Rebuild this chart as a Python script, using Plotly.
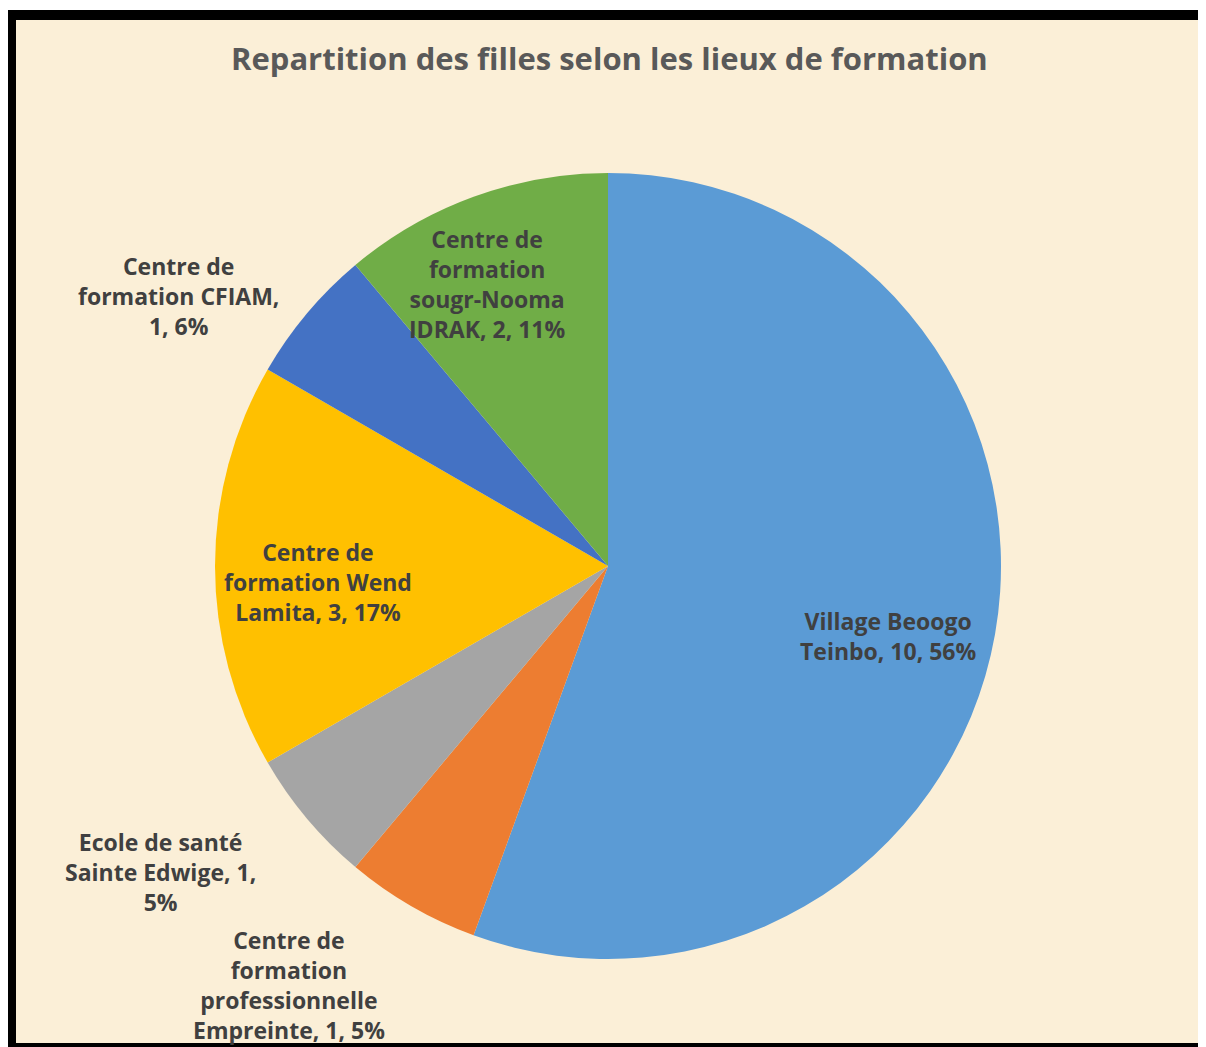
import plotly.graph_objects as go

# ---- data ----
labels = [
    "Village Beoogo Teinbo",
    "Centre de formation professionnelle Empreinte",
    "Ecole de santé Sainte Edwige",
    "Centre de formation Wend Lamita",
    "Centre de formation CFIAM",
    "Centre de formation sougr-Nooma IDRAK",
]
values = [10, 1, 1, 3, 1, 2]
percents = ["56%", "5%", "5%", "17%", "6%", "11%"]
colors = ["#5B9BD5", "#ED7D31", "#A5A5A5", "#FFC000", "#4472C4", "#70AD47"]

# label line breaks (as displayed)
label_lines = [
    "Village Beoogo<br>Teinbo, {v}, {p}",
    "Centre de<br>formation<br>professionnelle<br>Empreinte, {v}, {p}",
    "Ecole de santé<br>Sainte Edwige, {v},<br>{p}",
    "Centre de<br>formation Wend<br>Lamita, {v}, {p}",
    "Centre de<br>formation CFIAM,<br>{v}, {p}",
    "Centre de<br>formation<br>sougr-Nooma<br>IDRAK, {v}, {p}",
]
# label centre positions in page pixels (x, y from top)
label_pos = [(888, 636), (289, 985), (160, 872), (318, 582), (178, 296), (487, 284)]

W, H = 1206, 1047
O = 8  # page body margin offset
title = "Repartition des filles selon les lieux de formation"


def px(x):
    return (x - O) / W


def py(y):
    return 1 - (y - O) / H


fig = go.Figure()

cx, cy, r = 608, 566, 393
fig.add_trace(go.Pie(
    labels=labels,
    values=values,
    sort=False,
    direction="clockwise",
    rotation=0,
    marker=dict(colors=colors, line=dict(width=0)),
    textinfo="none",
    hoverinfo="label+value+percent",
    showlegend=False,
    domain=dict(x=[px(cx - r), px(cx + r)], y=[py(cy + r), py(cy - r)]),
))

shapes = [
    dict(type="rect", xref="paper", yref="paper", x0=px(0), x1=px(1206), y0=py(1047), y1=py(10),
         fillcolor="#000000", line=dict(width=0), layer="below"),
    dict(type="rect", xref="paper", yref="paper", x0=px(16), x1=px(1200), y0=py(1043), y1=py(20),
         fillcolor="#FBEFD7", line=dict(width=0), layer="below"),
]

annotations = [
    dict(text=title, x=px(609), y=py(58), xref="paper", yref="paper",
         showarrow=False, xanchor="center", yanchor="middle",
         font=dict(family="Open Sans", size=31, color="#595959", weight="bold")),
]
for lab, v, p, (x, y) in zip(label_lines, values, percents, label_pos):
    annotations.append(dict(
        text=lab.format(v=v, p=p), x=px(x), y=py(y), xref="paper", yref="paper",
        showarrow=False, xanchor="center", yanchor="middle", align="center",
        font=dict(family="Open Sans", size=23, color="#404040", weight="bold"),
    ))

fig.update_layout(
    width=W, height=H,
    margin=dict(l=0, r=0, t=0, b=0),
    paper_bgcolor="#FFFFFF",
    plot_bgcolor="rgba(0,0,0,0)",
    shapes=shapes,
    annotations=annotations,
)

fig.write_html("out.html")
